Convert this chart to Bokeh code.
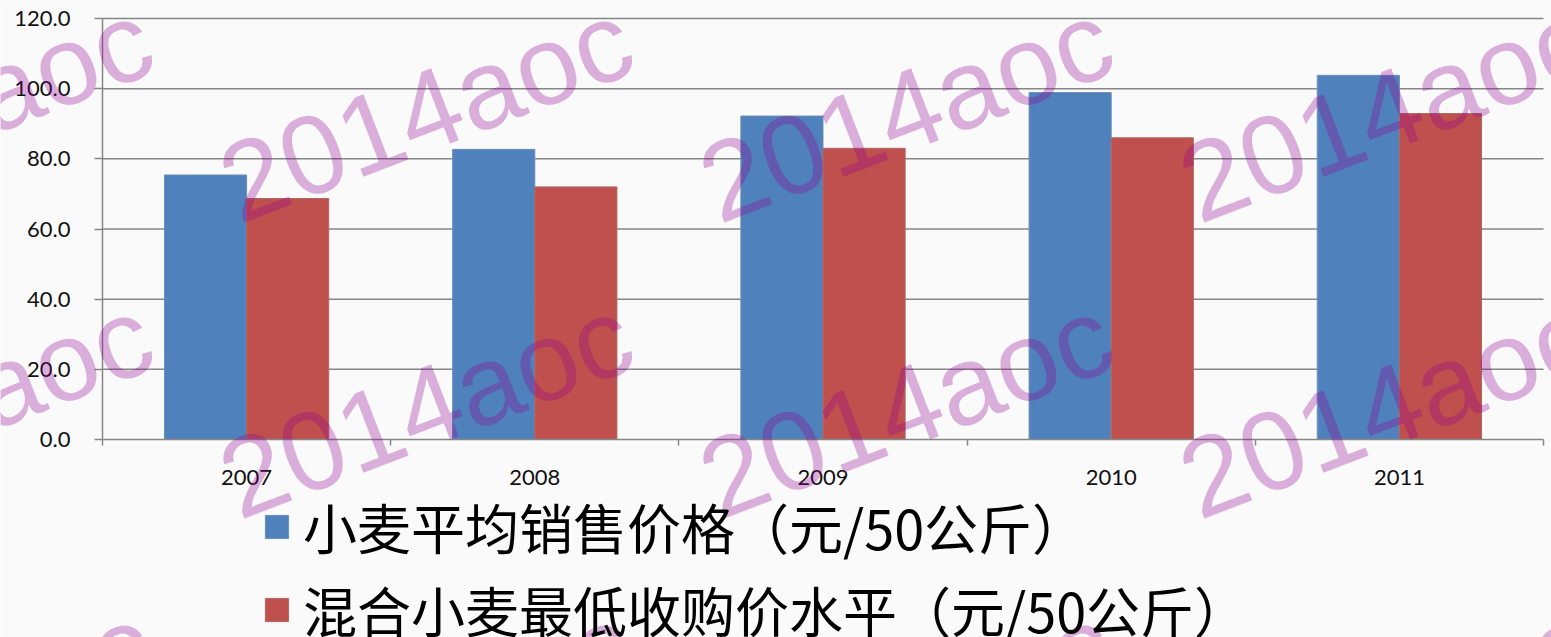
import math
from bokeh.plotting import figure
from bokeh.models import (ColumnDataSource, Range1d, FixedTicker, NumeralTickFormatter,
                          Legend, LegendItem, Label, LinearAxis)
from bokeh.transform import dodge
from bokeh.embed import file_html
from bokeh.resources import INLINE

# ---- data ----
years = ["2007", "2008", "2009", "2010", "2011"]
avg_price = [75.4, 82.7, 92.2, 98.9, 103.8]      # 小麦平均销售价格（元/50公斤）
min_price = [68.7, 72.0, 83.0, 86.0, 92.9]       # 混合小麦最低收购价水平（元/50公斤）
y_ticks = [0, 20, 40, 60, 80, 100, 120]
series_names = ["小麦平均销售价格（元/50公斤）", "混合小麦最低收购价水平（元/50公斤）"]
watermark = "2014aoc"

n = len(years)
x_pos = [i + 0.5 for i in range(n)]
src = ColumnDataSource(dict(x=x_pos, year=years, avg=avg_price, mn=min_price))

BG = "#FAFAFA"
GRID = "#868686"
BLUE = "#4F81BD"
RED = "#C0504D"

W, H = 1551, 637
# plot area in canvas pixels
L, R, T, B = 102, 1543, 18, 439
xpx = (R - L) / n
ypx = (B - T) / y_ticks[-1]

p = figure(width=W, height=H, output_backend="svg", toolbar_location=None,
           x_range=Range1d(-L / xpx, n + (W - R) / xpx),
           y_range=Range1d(-(H - B) / ypx, y_ticks[-1] + T / ypx),
           x_axis_location=None, y_axis_location=None,
           min_border=0, min_border_left=0, min_border_right=0,
           min_border_top=0, min_border_bottom=0,
           background_fill_color=BG, border_fill_color=BG, outline_line_color=None)
p.xgrid.visible = False
p.ygrid.visible = False

# horizontal gridlines across the plot area only
p.segment(x0=0, x1=n, y0=y_ticks[1:], y1=y_ticks[1:], line_color=GRID, line_width=1.5)

bw = 0.285
r1 = p.vbar(x=dodge("x", -bw / 2, range=p.x_range), top="avg", width=bw, source=src,
            fill_color=BLUE, line_color="#6F8FB5", line_width=1)
r2 = p.vbar(x=dodge("x", bw / 2, range=p.x_range), top="mn", width=bw, source=src,
            fill_color=RED, line_color="#A86A68", line_width=1)

# y axis at x = 0
yax = LinearAxis(fixed_location=0, bounds=(0, y_ticks[-1]))
yax.ticker = FixedTicker(ticks=y_ticks)
yax.formatter = NumeralTickFormatter(format="0.0")
yax.axis_line_color = GRID
yax.axis_line_width = 1.5
yax.major_tick_line_color = GRID
yax.major_tick_line_width = 1.5
yax.major_tick_out = 8
yax.major_tick_in = 0
yax.minor_tick_line_color = None
yax.major_label_standoff = 24
yax.major_label_text_font = "Lato"
yax.major_label_text_font_size = "22px"
yax.major_label_text_color = "#111111"
p.add_layout(yax, "left")

# x axis at y = 0: labels at centers, tick marks at category boundaries
xax = LinearAxis(fixed_location=0, bounds=(0, n))
xax.ticker = FixedTicker(ticks=x_pos, minor_ticks=list(range(n + 1)))
xax.major_label_overrides = {x: y for x, y in zip(x_pos, years)}
xax.major_tick_line_color = None
xax.major_tick_out = 0
xax.major_tick_in = 0
xax.minor_tick_line_color = GRID
xax.minor_tick_line_width = 1.5
xax.minor_tick_out = 6
xax.minor_tick_in = 0
xax.axis_line_color = GRID
xax.axis_line_width = 1.5
xax.major_label_standoff = 24
xax.major_label_text_font = "Lato"
xax.major_label_text_font_size = "22px"
xax.major_label_text_color = "#111111"
p.add_layout(xax, "below")

# legend below the plot area
legend = Legend(items=[LegendItem(label=series_names[0], renderers=[r1]),
                       LegendItem(label=series_names[1], renderers=[r2])],
                location=(262, -12), orientation="vertical",
                glyph_width=29, glyph_height=29, label_standoff=12,
                label_text_font="Noto Sans CJK SC", label_text_font_size="54px",
                label_text_color="#000000", label_height=75, spacing=4,
                padding=0, margin=0, border_line_color=None,
                background_fill_alpha=0)
p.add_layout(legend, "center")

# watermark (semi-transparent text on top)
def to_data(px, py):
    return (px - L) / xpx, (B - py) / ypx

for wy in (188, 484, 792):
    for wx in (-255, 225, 705, 1185):
        dx, dy = to_data(wx, wy)
        p.add_layout(Label(x=dx, y=dy, text=watermark, angle=math.radians(21),
                           text_font="Liberation Sans", text_font_size="112px",
                           text_color="#910091", text_alpha=0.3,
                           text_align="left", text_baseline="alphabetic"))

open("out.html", "w").write(file_html(p, INLINE))
